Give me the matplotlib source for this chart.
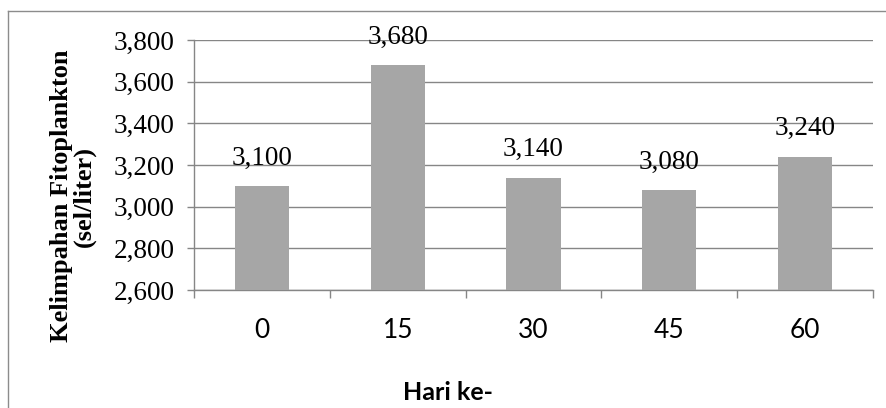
import matplotlib.pyplot as plt
from matplotlib.lines import Line2D
from matplotlib.ticker import FuncFormatter

hari = ["0", "15", "30", "45", "60"]
kelimpahan = [3100, 3680, 3140, 3080, 3240]
y_ticks = [2600, 2800, 3000, 3200, 3400, 3600, 3800]

serif = "Liberation Serif"
sans = "Lato"
abu = "#a6a6a6"
garis = "#868686"

fig = plt.figure(figsize=(8.87, 4.08), dpi=100)
ax = fig.add_axes([194 / 887, 1 - 290 / 408, (873 - 194) / 887, (290 - 40) / 408])

x = list(range(len(hari)))
bars = ax.bar(x, kelimpahan, width=0.4, color=abu, zorder=3)

ax.set_ylim(2600, 3800)
ax.set_xlim(-0.5, len(hari) - 0.5)
ax.set_yticks(y_ticks)
ax.yaxis.set_major_formatter(FuncFormatter(lambda v, p: f"{int(v):,}"))
ax.grid(axis="y", color=garis, linewidth=1, zorder=0)

# label kategori di tengah, garis tick di batas kategori
ax.set_xticks(x)
ax.set_xticklabels(hari, fontfamily=sans, fontsize=19)
ax.tick_params(axis="x", length=0, pad=20)
ax.set_xticks([i - 0.5 for i in range(len(hari) + 1)], minor=True)
ax.tick_params(axis="x", which="minor", length=6, color=garis, width=1)

ax.tick_params(axis="y", length=5, color=garis, width=1, pad=9)
for t in ax.get_yticklabels():
    t.set_fontfamily(serif)
    t.set_fontsize(19.5)

for s in ["top", "right"]:
    ax.spines[s].set_visible(False)
for s in ["left", "bottom"]:
    ax.spines[s].set_color(garis)
    ax.spines[s].set_linewidth(1)

for xi, v in zip(x, kelimpahan):
    ax.annotate(f"{v:,}", (xi, v), xytext=(0, 11), textcoords="offset points",
                ha="center", va="bottom", fontfamily=serif, fontsize=19.5)

fig.text(73 / 887, 1 - 196 / 408, "Kelimpahan Fitoplankton\n(sel/liter)",
         rotation=90, ha="center", va="center", multialignment="center",
         fontfamily=serif, fontweight="bold", fontsize=19, linespacing=1.0)
fig.text(448 / 887, 1 - 393 / 408, "Hari ke-", ha="center", va="center",
         fontfamily=sans, fontweight="bold", fontsize=18)

# bingkai area grafik
x0, y0 = 8 / 887, 1 - 11 / 408
fig.add_artist(Line2D([x0, 1], [y0, y0], transform=fig.transFigure, color="#8c8c8c", linewidth=1))
fig.add_artist(Line2D([x0, x0], [0, y0], transform=fig.transFigure, color="#8c8c8c", linewidth=1))

fig.savefig("out.png", dpi=100)
